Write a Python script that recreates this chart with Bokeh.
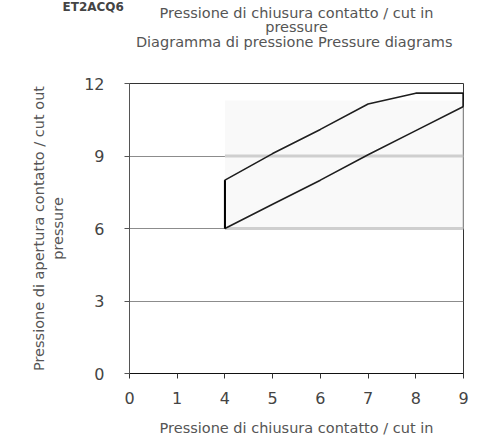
from bokeh.plotting import figure
from bokeh.models import Range1d, FixedTicker, Title
from bokeh.embed import file_html
from bokeh.resources import INLINE

# ---- data ----
x_values = [0, 1, 4, 5, 6, 7, 8, 9]          # category tick values (equally spaced)
x_tick_labels = ["0", "1", "4", "5", "6", "7", "8", "9"]
y_ticks = [0, 3, 6, 9, 12]

upper_x = [4, 5, 6, 7, 8, 9]
upper_y = [8.0, 9.1, 10.1, 11.15, 11.6, 11.6]
lower_x = [4, 5, 6, 7, 8, 9]
lower_y = [6.0, 7.0, 8.0, 9.05, 10.05, 11.05]

band_x = [4, 9]
band_y = [6, 9]

title_code = "ET2ACQ6"
title_lines = ["Pressione di chiusura contatto / cut in", "pressure",
               "Diagramma di pressione  Pressure diagrams"]
ylabel_lines = ["Pressione di apertura contatto / cut out", "pressure"]
xlabel = "Pressione di chiusura contatto / cut in"

pos = {v: i for i, v in enumerate(x_values)}

FONT = "DejaVu Sans"
TXT = "#555555"
TSIZE = "14.5px"

p = figure(width=476, height=438, output_backend="svg", toolbar_location=None,
           x_range=Range1d(0, len(x_values) - 1), y_range=Range1d(0, 12),
           min_border_left=129, min_border_right=13, min_border_top=83,
           min_border_bottom=59)

p.outline_line_color = "#333333"
p.outline_line_width = 1

# axes
p.xaxis.ticker = FixedTicker(ticks=list(range(len(x_values))))
p.xaxis.major_label_overrides = {i: t for i, t in enumerate(x_tick_labels)}
p.yaxis.ticker = FixedTicker(ticks=y_ticks)
for ax in (p.xaxis, p.yaxis):
    ax.minor_tick_line_color = None
    ax.major_tick_in = 0
    ax.major_tick_out = 5
    ax.major_label_text_font = FONT
    ax.major_label_text_font_size = "16px"
    ax.major_label_text_color = "#444444"
    ax.axis_label_text_font = FONT
    ax.axis_label_text_font_size = TSIZE
    ax.axis_label_text_font_style = "normal"
    ax.axis_label_text_color = TXT
p.xaxis.axis_line_color = "#111111"
p.xaxis.major_tick_line_color = "#333333"
p.yaxis.axis_line_color = "#555555"
p.yaxis.major_tick_line_color = "#555555"
p.xaxis.major_label_standoff = 13
p.yaxis.major_label_standoff = 20
p.xaxis.axis_label = xlabel
p.xaxis.axis_label_standoff = 13
p.yaxis.axis_label = "\n".join(ylabel_lines)
p.yaxis.axis_label_standoff = 15

p.xgrid.grid_line_color = None
p.ygrid.grid_line_color = "#8c8c8c"
p.ygrid.grid_line_width = 1

# titles (first added is nearest the frame); a blank spacer keeps them high
p.add_layout(Title(text=" ", align="center", text_font=FONT, text_font_size="14px",
                   standoff=18), "above")
p.add_layout(Title(text=title_lines[2], align="center", text_font=FONT,
                   text_font_size=TSIZE, text_font_style="normal",
                   text_color=TXT, standoff=-4), "above")
p.add_layout(Title(text=title_lines[1], align="center", text_font=FONT,
                   text_font_size=TSIZE, text_font_style="normal",
                   text_color=TXT, standoff=-3), "above")
p.add_layout(Title(text=title_lines[0], align="center", text_font=FONT,
                   text_font_size=TSIZE, text_font_style="normal",
                   text_color=TXT, standoff=-4), "above")
p.add_layout(Title(text=title_code, align="left", offset=-67, text_font=FONT,
                   text_font_size="12px", text_font_style="bold",
                   text_color="#444444", standoff=-19), "above")

# faint band region
p.quad(left=[pos[band_x[0]]], right=[pos[band_x[1]]], bottom=[band_y[0]], top=[11.3],
       fill_color="#f7f7f7", fill_alpha=0.7, line_color=None)
for yv in band_y:
    p.line([pos[band_x[0]], pos[band_x[1]]], [yv, yv], line_color="#cfcfcf", line_width=3)
p.line([pos[band_x[1]], pos[band_x[1]]], [band_y[0], lower_y[-1]], line_color="#bdbdbd", line_width=2)

# hysteresis outline
px = [pos[lower_x[0]]] + [pos[v] for v in upper_x] + [pos[v] for v in lower_x[::-1]]
py = [lower_y[0]] + upper_y + lower_y[::-1]
p.line(px, py, line_color="#1e1e1e", line_width=1.6)
p.line([pos[4], pos[4]], [lower_y[0], upper_y[0]], line_color="#000000", line_width=2)
p.line([pos[9], pos[9]], [lower_y[-1], upper_y[-1]], line_color="#000000", line_width=2)

open("out.html", "w").write(file_html(p, INLINE))
